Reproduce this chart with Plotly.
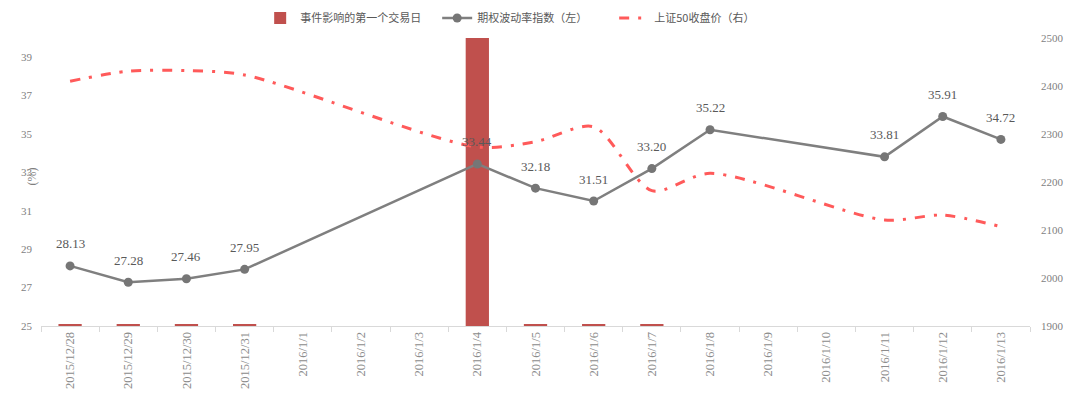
import plotly.graph_objects as go

dates = ["2015/12/28", "2015/12/29", "2015/12/30", "2015/12/31", "2016/1/1", "2016/1/2",
         "2016/1/3", "2016/1/4", "2016/1/5", "2016/1/6", "2016/1/7", "2016/1/8",
         "2016/1/9", "2016/1/10", "2016/1/11", "2016/1/12", "2016/1/13"]
event_bar = [25.06, 25.06, 25.06, 25.06, None, None, None, 40, 25.06, 25.06, 25.06,
             None, None, None, None, None, None]
vol_index = [28.13, 27.28, 27.46, 27.95, None, None, None, 33.44, 32.18, 31.51, 33.20,
             35.22, None, None, 33.81, 35.91, 34.72]
sz50 = [2410, 2431, 2432, 2423, None, None, None, 2273, 2284, 2315, 2182, 2218,
        None, None, 2121, 2131, 2107]

left_ticks = [25, 27, 29, 31, 33, 35, 37, 39]
right_ticks = [1900, 2000, 2100, 2200, 2300, 2400, 2500]

serif = "Liberation Serif, Times New Roman, serif"
cjk = "Noto Sans CJK SC, sans-serif"

fig = go.Figure()
fig.add_trace(go.Bar(
    x=dates, y=[None if v is None else v - 25 for v in event_bar], base=25,
    name="事件影响的第一个交易日", marker=dict(color="#C0504D", line=dict(width=0)),
    width=0.4, yaxis="y", legendrank=1))
fig.add_trace(go.Scatter(
    x=dates, y=vol_index, name="期权波动率指数（左）", mode="lines+markers",
    connectgaps=True, line=dict(color="#7F7F7F", width=2.5),
    marker=dict(color="#767676", size=9),
    yaxis="y", legendrank=2))
fig.add_trace(go.Scatter(
    x=dates, y=sz50, name="上证50收盘价（右）", mode="lines", connectgaps=True,
    line=dict(color="#FF5A5A", width=3, dash="10px,9px,3px,9px", shape="spline", smoothing=0.8),
    yaxis="y2", legendrank=3))

annotations = [dict(x=d, y=v, xref="x", yref="y", text=f"{v:.2f}", showarrow=False,
                    yshift=22, font=dict(family=serif, size=13, color="#595959"))
               for d, v in zip(dates, vol_index) if v is not None]
annotations.append(dict(text="(%)", xref="paper", yref="paper", x=-0.018, y=0.52,
                        showarrow=False, textangle=-90,
                        font=dict(family=serif, size=12, color="#7F7F7F")))

fig.update_layout(
    width=1083, height=399,
    margin=dict(l=33, r=61, t=30, b=81, autoexpand=False),
    paper_bgcolor="white", plot_bgcolor="white",
    legend=dict(orientation="h", x=0.478, xanchor="center", xref="container",
                y=0.975, yanchor="middle", yref="container",
                font=dict(family=cjk, size=11, color="#595959"),
                itemwidth=30, traceorder="normal", entrywidth=132, entrywidthmode="pixels"),
    xaxis=dict(type="category", categoryorder="array", categoryarray=dates,
               range=[-0.5, len(dates) - 0.5],
               tickangle=-90, tickfont=dict(family=serif, size=12.5, color="#8C8C8C"),
               showline=True, linecolor="#D9D9D9", linewidth=1,
               ticks="outside", tickson="boundaries", ticklen=5, tickcolor="#D9D9D9",
               showgrid=False, zeroline=False, automargin=False),
    yaxis=dict(range=[25, 40], tickvals=left_ticks, showgrid=False, zeroline=False,
               showline=False, tickfont=dict(family=serif, size=11, color="#7F7F7F"),
               ticks="", ticklabelstandoff=8, automargin=False),
    yaxis2=dict(range=[1900, 2500], tickvals=right_ticks, overlaying="y", side="right",
                showgrid=False, zeroline=False, showline=False,
                tickfont=dict(family=serif, size=11, color="#7F7F7F"), ticks="",
                ticklabelstandoff=10, automargin=False),
    annotations=annotations,
)

fig.write_html("out.html")
